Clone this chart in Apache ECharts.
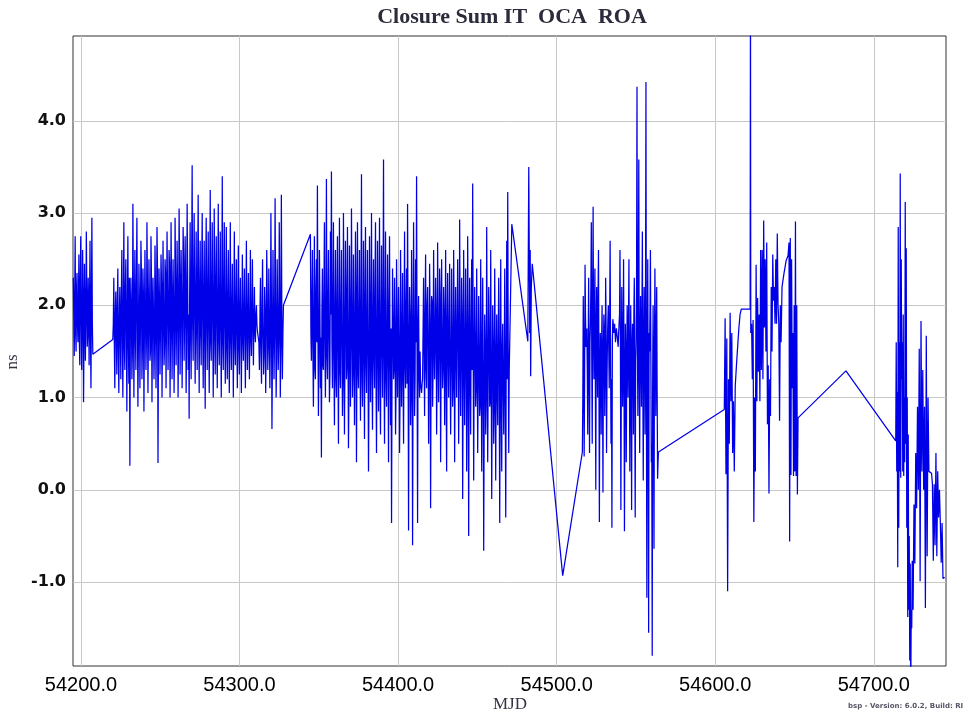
<!DOCTYPE html>
<html><head><meta charset="utf-8">
<script src="https://cdn.jsdelivr.net/npm/echarts@6/dist/echarts.min.js"></script>
<style>html,body{margin:0;padding:0;background:#fff}#c{width:976px;height:714px}</style>
</head><body><div id="c"></div>
<script>
// Axis ticks
const xTicks = [54200, 54300, 54400, 54500, 54600, 54700];
const yTicks = [-1, 0, 1, 2, 3, 4];

const segA = [2.3,1.45,2.75,1.5,2.35,1.6,2.55,1.35,2.75,1.3,2.6,0.95,2.45,1.4,2.8,1.55,2.3,1.35,2.7,1.1,2.95,1.47];
const coreA = [1.9,2.1,1.7,2.2,1.8,2.0,1.6,2.3,1.9,1.75,2.15,1.6,2.0,1.85,2.2,1.7,1.95,2.1,1.65,2.05,1.8];
const segB = [1.63,2.3,1.1,2.15,1.25,2.4,1.05,2.2,
  1.2,2.6,1.0,2.9,1.3,2.5,0.85,2.75,1.15,0.26,2.3,1.2,3.1,1.0,2.6,1.3,2.95,0.9,2.45,1.1,
  2.7,1.2,2.4,0.85,2.6,1.3,2.9,1.05,2.5,1.4,2.75,0.95,2.3,1.2,2.65,1.1,2.85,0.29,2.4,1.25,2.55,1.0,2.7,1.35,2.5,
  1.1,2.8,1.3,2.6,1.0,2.9,1.2,2.5,1.05,2.95,1.35,2.7,1.0,3.05,1.25,2.6,1.1,2.85,1.4,2.75,1.05,3.1,1.3,0.77,2.9,1.2,3.52,1.4,3.0,1.15,2.8,1.3,3.2,1.05,2.7,
  1.35,3.0,1.1,2.7,0.88,2.95,1.3,2.8,1.05,3.25,1.4,2.9,1.0,3.05,1.25,2.75,1.1,3.1,1.35,2.8,1.0,3.4,1.3,2.9,1.15,
  2.85,1.2,2.6,1.05,2.9,1.3,2.45,1.0,2.8,1.35,2.5,1.1,2.65,1.25,2.3,1.05,2.55,1.4,2.4,1.1,2.7,1.3,2.35,1.2,2.6,1.45,2.5,1.35,2.2,1.6,2.0,1.72];
const coreB = [1.8,1.6,1.9,1.7,2.0,1.5,1.85,1.65,2.1,1.7,1.9,1.55,
  2.2,1.75,1.95,1.6,2.3,1.8,2.0,1.5,2.15,1.85,1.7,2.25,
  1.9,1.6,2.05,1.75,2.35,1.55,2.1,1.8,1.95,1.65,2.2,1.7,
  2.0,1.5,2.3,1.85,1.9,1.6,2.15,1.75,2.4,1.65,2.05,1.8,
  2.25,1.7,2.0,1.55,2.35,1.9,2.1,1.75,2.45,1.65,2.2,1.85,
  2.0,1.6,2.3,1.8,2.15,1.7,2.4,1.95,2.05,1.75,2.5,1.85,
  2.2,1.65,2.35,1.9,2.1,1.7,2.45,1.8,2.25,1.95,2.0,1.75,
  2.4,1.85,2.15,1.7,2.3,1.9,2.05,1.65,2.35,1.8,2.2,1.75,
  2.1,1.6,2.25,1.85,2.0,1.7,2.3,1.8,1.95,1.65,2.15,1.75,
  2.05,1.6,2.2,1.8,1.9,1.55,2.1,1.7,1.95,1.65,2.0,1.75,
  1.85,1.6,2.05,1.7,1.9,1.55,2.0,1.75,1.8,1.65,1.95,1.7,
  1.85,1.75,1.9,1.7,1.8,1.65,1.95,1.75,1.85,1.7,1.9,1.8];
const segC = [1.72,1.3,2.3,1.15,2.5,1.25,2.2,1.05,2.6,1.3,2.4,1.1,3.0,0.66,2.6,1.2,3.16,1.0,2.5,1.3,2.9,1.0,3.2,1.2,2.0];
const coreC = [1.6,1.9,1.5,2.0,1.7,1.45,1.95,1.6,2.1,1.55,1.8,1.65,2.0,1.5,1.85,1.7,2.05,1.45,1.9,1.6,2.1,1.55,1.8,1.7];
const segD = [2.77,1.4,2.6,0.9,2.75,1.2,2.5,3.3,0.8,2.6,1.1,0.35,2.4,1.3,2.9,1.0,3.37,1.2,2.6,0.95,2.8,3.45,1.1,
  2.9,0.7,2.6,1.0,2.75,0.5,2.95,1.1,2.6,0.8,3.0,0.6,2.7,1.2,2.85,0.45,2.65,0.9,3.05,1.0,
  2.55,0.7,2.8,0.3,2.9,1.1,2.6,0.75,3.42,0.9,2.7,0.55,2.85,1.05,2.6,0.2,2.75,0.95,3.0,0.65,
  2.5,1.1,2.9,0.4,2.7,0.85,2.95,0.6,2.65,1.0,3.58,0.5,2.8,0.9,2.55,0.3,2.75,0.7,-0.36,2.4,
  1.2,2.3,0.6,2.5,1.0,2.2,0.4,2.6,0.9,2.35,0.5,2.8,1.1,2.4,3.1,-0.44,2.2,0.7,2.6,-0.6,2.9,0.8,2.5,3.4,-0.36,2.1,1.0,
  1.15,1.05,1.2,
  2.3,0.8,2.55,1.1,2.2,0.5,2.45,-0.2,2.1,0.9,2.6,1.2,2.3,0.6,2.68,0.95,2.4,0.3,2.5,1.1,2.2,0.7,2.6,0.2,2.35,1.0,2.45,
  0.6,2.4,0.9,2.6,0.3,2.2,1.0,2.5,0.5,2.93,0.8,2.3,-0.1,2.6,0.7,2.4,0.2,2.75,-0.5,2.3,0.6,2.5,3.32,0.1,2.2,0.9,2.4,
  0.4,2.1,0.8,2.5,0.2,2.3,-0.66,1.9,0.6,2.85,0.3,2.2,0.9,2.6,-0.1,2.0,0.5,2.4,0.1,1.9,0.7,2.3,-0.36,2.5,0.2,1.8,0.6,2.4,-0.3,2.7,3.23,0.4,1.6];
const coreD = [1.7,2.1,1.5,1.9,1.3,2.2,1.6,1.8,1.4,2.0,1.65,1.95,1.35,2.15,1.55,1.85,1.45,2.05,1.7,1.25,1.9,1.6,2.0,
  1.4,1.9,1.2,2.1,1.5,1.75,1.3,2.0,1.6,1.15,1.85,1.45,
  2.2,1.35,1.7,1.1,1.95,1.55,2.05,1.25,1.8,1.4,2.15,1.6,
  1.3,1.9,1.5,2.0,1.2,1.75,1.45,2.1,1.35,1.85,1.55,1.15,
  2.0,1.65,1.3,1.9,1.45,2.2,1.25,1.7,1.5,1.95,1.1,1.8,
  1.6,2.05,1.35,1.85,1.2,1.7,1.5,2.0,1.4,1.75,1.3,1.9,
  1.3,1.8,1.1,1.95,1.4,1.6,1.0,1.85,1.5,1.2,1.75,1.35,2.0,1.15,1.65,1.45,1.9,1.05,1.7,1.3,1.85,1.2,1.6,1.4,1.75,1.25,1.5,
  1.1,1.15,1.2,
  1.5,1.9,1.3,2.0,1.6,1.2,1.85,1.45,2.05,1.35,1.75,1.55,1.95,1.25,1.8,1.5,2.1,1.4,1.7,1.3,1.9,1.6,1.15,1.85,1.45,1.75,1.35,
  1.3,1.7,1.1,1.85,1.4,1.55,1.0,1.8,1.25,1.65,1.45,1.9,1.15,1.6,1.35,1.75,1.05,1.7,1.5,1.2,1.8,1.3,1.6,1.4,1.65,1.1,1.5,
  1.1,1.5,0.9,1.6,1.2,1.35,0.8,1.55,1.0,1.45,1.25,1.7,0.95,1.4,1.15,1.6,0.85,1.5,1.3,1.05,1.65,1.2,1.4,0.9,1.55,1.1,1.3,1.0,1.45,1.2,1.5,1.3];
const segE = [0.41,2.1,0.36,2.44,1.55,1.75,0.6,2.3,
  0.4,1.8,2.9,0.5,3.07,1.2,2.4,0.0,2.2,1.0,2.6,-0.35,
  1.7,0.6,2.0,-0.03,1.9,0.8,2.3,0.4,1.6,2.0,1.1,2.7,0.5,-0.41,
  1.85,1.7,1.8,1.6,1.75,1.65,1.55,1.8,
  2.6,-0.22,2.2,0.9,2.5,-0.45,1.8,0.3,2.0,1.0,
  2.5,0.2,2.0,-0.22,1.8,0.6,2.3,-0.3,1.6,4.37,0.8,3.58,0.4,2.1,
  0.9,2.8,0.1,2.2,0.6,4.42,-1.17,2.5,-1.55,1.5,
  2.6,0.3,-1.8,2.0,-0.64,2.4,0.8,2.2,0.12,0.41];
const coreE = [1.0,1.5,1.2,1.9,1.65,1.3,1.5,1.4,
  1.6,2.2,1.4,2.0,1.7,1.9,1.2,1.8,1.5,2.1,1.3,1.2,
  1.4,1.6,1.1,1.5,1.7,1.3,1.8,1.2,1.85,1.5,1.9,1.4,1.2,1.6,
  1.8,1.75,1.7,1.7,1.7,1.6,1.7,1.9,
  1.5,1.2,1.6,1.4,1.3,1.0,1.5,1.2,1.6,1.8,
  1.3,1.4,1.0,1.6,1.5,1.9,1.1,1.4,2.2,1.5,2.0,1.3,1.6,1.4,
  1.9,1.2,1.6,1.5,2.0,1.0,1.3,1.1,1.7,1.9,
  1.4,0.5,1.2,1.0,1.5,1.7,1.5,1.1,0.3];
const segF1 = [0.87,1.86,0.17,1.64,-1.1,1.2,0.5,1.92,0.96,1.7,0.4,0.96,0.2];
const segF2 = [1.12,1.35,1.55,1.75,1.9,1.96];
const segF3 = [1.8,1.2,1.84,-0.35,1.0,0.2,2.44,0.96,2.08,1.28,1.9,0.96,2.6,1.3,2.6,1.2,2.92,1.76,2.5,1.5,2.68,0.71,1.35,-0.04,1.2,0.8,
  2.2,1.5,2.55,2.05,2.2,1.8,2.5,1.8,2.78,2.0,1.8,0.75,2.0,1.6];
const segF4 = [2.2,2.35,2.48,2.54];
const segF5 = [2.68,-0.56,2.73,0.16,2.5,1.1,1.7,0.15,2.0,0.2,2.91,0.15,2.0,-0.05,0.78];
const segG1 = [0.53,1.6,0.2,1.06,-0.84,2.85,-0.41,1.6,0.2,3.43,0.13,2.5,1.2,1.6,0.2,1.9,0.15,1.0,0.3,3.12,0.5,2.62,-0.41,1.0,-1.38,0.6,-1.3,-0.5,-1.85,-0.8,-2.2,-1.3,-1.5];
const segG2 = [-0.77,-1.3,-0.16,-0.8,0.4,-0.2,0.9,0.0,1.53,-0.99,1.83,0.2,1.3,0.0,0.9,-1.28,1.67,-0.72,1.0,0.2,0.2,0.2,0.18,0.06,-0.77,0.06,-0.6,0.4,-0.72,0.2,-0.3,0.0,-0.36,-0.79,-0.36,-0.96,-0.95,-0.95];

// MJD span covered by each block, its main samples and its in-between samples
const blockSpans = [[54195.2,54207.5],[54220.1,54311.3],[54311.9,54327.7],[54344.7,54470.4],[54516.2,54564.2],
  [54605.7,54612.0],[54612.6,54616.4],[54622.9,54641.5],[54642.1,54645.9],[54646.5,54652.2],[54713.8,54723.9],[54724.2,54744.7]];
const blockValues = [segA, segB, segC, segD, segE, segF1, segF2, segF3, segF4, segF5, segG1, segG2];
const blockCores  = [coreA, coreB, coreC, coreD, coreE, [], [], [], [], [], [], []];

// Isolated points between blocks
const sparseMjd = [54471.7,54481.8,54482.4,54483.0,54483.3,54483.6,54484.0,54484.6,54503.8,54622.0,54622.2,54622.4,54682.4];
const sparseNs  = [2.88,1.61,3.5,1.7,2.6,1.23,2.2,2.45,-0.93,1.96,5.6,1.7,1.29];

const points = [];
blockValues.forEach((vals, k) => {
  const s = blockSpans[k][0], e = blockSpans[k][1], core = blockCores[k];
  const seq = [];
  vals.forEach((v, i) => { seq.push(v); if (i < core.length) seq.push(core[i]); });
  const n = seq.length;
  seq.forEach((v, i) => points.push([n > 1 ? s + (e - s) * i / (n - 1) : s, v]));
});
sparseMjd.forEach((m, i) => points.push([m, sparseNs[i]]));
points.sort((a, b) => a[0] - b[0]);

const chart = echarts.init(document.getElementById('c'), null, {renderer: 'canvas'});
chart.setOption({
  animation: false,
  backgroundColor: '#ffffff',
  grid: {left: 73, right: 30, top: 36, bottom: 48, show: true, borderColor: '#333333', borderWidth: 1, backgroundColor: 'transparent'},
  xAxis: {
    type: 'value', min: 54195, max: 54745.5,
    axisLine: {show: false},
    axisTick: {show: false, customValues: xTicks},
    axisLabel: {customValues: xTicks, formatter: v => v.toFixed(1), fontSize: 20, fontFamily: '"Liberation Sans", sans-serif', color: '#000', margin: 9},
    splitLine: {show: true, lineStyle: {color: '#c8c8c8', width: 1}}
  },
  yAxis: {
    type: 'value', min: -1.91, max: 4.92,
    axisLine: {show: false},
    axisTick: {show: false, customValues: yTicks},
    axisLabel: {customValues: yTicks, formatter: v => v.toFixed(1), fontSize: 16, fontWeight: 'bold', fontFamily: '"DejaVu Sans", sans-serif', color: '#111', margin: 7},
    splitLine: {show: true, lineStyle: {color: '#c8c8c8', width: 1}}
  },
  series: [{
    type: 'line', data: points, showSymbol: false, symbol: 'none', clip: true, sampling: null,
    lineStyle: {color: '#0000e8', width: 1.25}
  }],
  graphic: [
    {type: 'text', x: 512, y: 6, style: {text: 'Closure Sum IT  OCA  ROA', font: 'bold 22px "Liberation Serif", serif', fill: '#2b2b3b', textAlign: 'center'}},
    {type: 'text', x: 510, y: 696, style: {text: 'MJD', font: '17px "Liberation Serif", serif', fill: '#333344', textAlign: 'center'}},
    {type: 'text', x: 13, y: 362, rotation: Math.PI / 2, style: {text: 'ns', font: '17px "Liberation Serif", serif', fill: '#333344', textAlign: 'center', textVerticalAlign: 'middle'}},
    {type: 'text', x: 848, y: 703, style: {text: 'bsp - Version: 6.0.2, Build: RI', font: 'bold 7px "DejaVu Sans", sans-serif', fill: '#555566'}}
  ]
});
</script>
</body></html>
